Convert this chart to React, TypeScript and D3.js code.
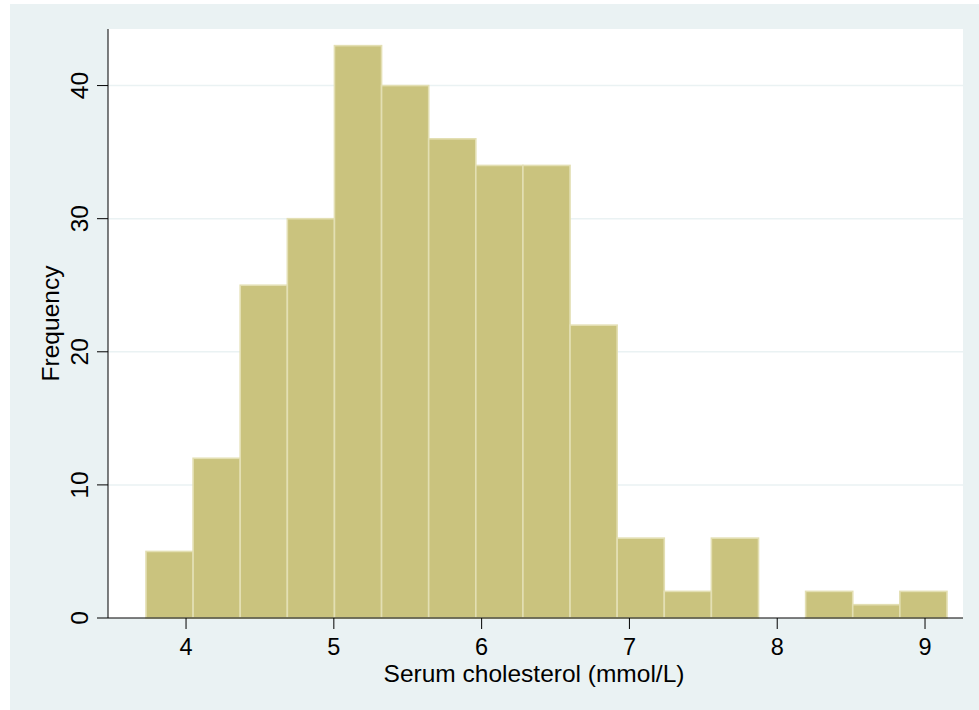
import React from 'react';
import * as d3 from 'd3';

// histogram of serum cholesterol, 17 bins
const binStart = 3.729;
const binWidth = 0.3188;
const counts = [5, 12, 25, 30, 43, 40, 36, 34, 34, 22, 6, 2, 6, 0, 2, 1, 2];

const xTicks = [4, 5, 6, 7, 8, 9];
const yTicks = [0, 10, 20, 30, 40];
const xDomain = [3.472, 9.257];
const yDomain = [0, 44.25];

const xTitle = 'Serum cholesterol (mmol/L)';
const yTitle = 'Frequency';

const W = 979;
const H = 710;
const plot = { left: 108, right: 963, top: 29, bottom: 618 };
const font = '"Liberation Sans", Arial, sans-serif';
const fs = 24.5;
const tickFs = 23.5;

const App = () => {
  const x = d3.scaleLinear().domain(xDomain).range([plot.left, plot.right]);
  const y = d3.scaleLinear().domain(yDomain).range([plot.bottom, plot.top]);

  const bins = counts.map((c, i) => ({
    x0: binStart + i * binWidth,
    x1: binStart + (i + 1) * binWidth,
    count: c
  }));

  return (
    <svg
      width={W}
      height={H}
      style={{ position: 'absolute', left: 0, top: 0, background: '#fff' }}
    >
      {/* graph region */}
      <rect x={10} y={4} width={W - 10} height={H - 4} fill="#EAF2F3" />
      {/* plot region */}
      <rect
        x={plot.left}
        y={plot.top}
        width={plot.right - plot.left}
        height={plot.bottom - plot.top}
        fill="#fff"
      />

      {/* gridlines */}
      {yTicks
        .filter((t) => t > 0)
        .map((t) => (
          <line
            key={'g' + t}
            x1={plot.left}
            x2={plot.right}
            y1={y(t)}
            y2={y(t)}
            stroke="#EAF2F3"
            strokeWidth={1.5}
          />
        ))}

      {/* bars */}
      {bins
        .filter((b) => b.count > 0)
        .map((b, i) => (
          <rect
            key={'b' + i}
            x={x(b.x0)}
            y={y(b.count)}
            width={x(b.x1) - x(b.x0)}
            height={y(0) - y(b.count)}
            fill="#CAC37E"
            stroke="#E3DFB3"
            strokeWidth={1.6}
          />
        ))}

      {/* axes */}
      <line x1={plot.left} x2={plot.left} y1={plot.top} y2={plot.bottom} stroke="#000" strokeWidth={1} />
      <line x1={plot.left} x2={plot.right} y1={plot.bottom} y2={plot.bottom} stroke="#000" strokeWidth={1} />

      {yTicks.map((t) => (
        <g key={'y' + t}>
          <line x1={plot.left - 11} x2={plot.left} y1={y(t)} y2={y(t)} stroke="#000" strokeWidth={1} />
          <text
            transform={`translate(${plot.left - 20},${y(t)}) rotate(-90)`}
            textAnchor="middle"
            fontFamily={font}
            fontSize={fs}
            fill="#000"
          >
            {t}
          </text>
        </g>
      ))}

      {xTicks.map((t) => (
        <g key={'x' + t}>
          <line x1={x(t)} x2={x(t)} y1={plot.bottom} y2={plot.bottom + 11} stroke="#000" strokeWidth={1} />
          <text x={x(t)} y={655} textAnchor="middle" fontFamily={font} fontSize={tickFs} fill="#000">
            {t}
          </text>
        </g>
      ))}

      <text
        x={534}
        y={682}
        textAnchor="middle"
        fontFamily={font}
        fontSize={fs}
        fill="#000"
      >
        {xTitle}
      </text>
      <text
        transform={`translate(59,${(plot.top + plot.bottom) / 2}) rotate(-90)`}
        textAnchor="middle"
        fontFamily={font}
        fontSize={fs}
        fill="#000"
      >
        {yTitle}
      </text>
    </svg>
  );
};

export default App;
